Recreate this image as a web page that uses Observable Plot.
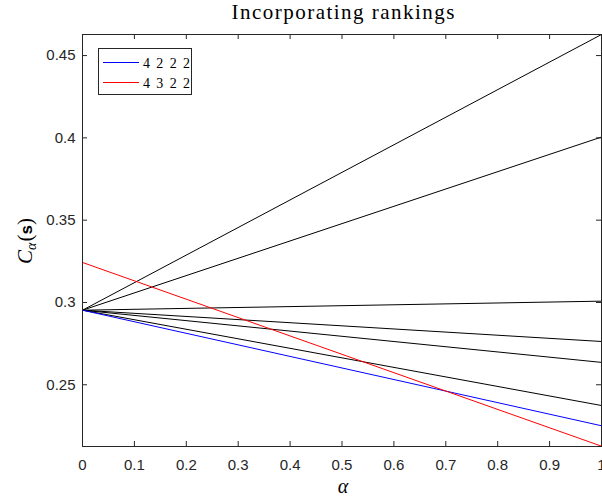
<!DOCTYPE html>
<html><head><meta charset="utf-8">
<script src="https://cdn.jsdelivr.net/npm/d3@7"></script>
<script src="https://cdn.jsdelivr.net/npm/@observablehq/plot@0.6"></script>
<style>body{margin:0;background:#fff} #chart{width:602px;height:498px}</style>
</head><body><div id="chart"></div>
<script>
// ---- data ----
const alpha = [0, 1];
const blackStart = 0.2953;
const blackEnds = [0.4628, 0.4005, 0.3008, 0.2763, 0.2636, 0.2374];
const blueSeries = [0.2953, 0.2251];   // 4 2 2 2
const redSeries  = [0.3243, 0.2127];   // 4 3 2 2
const xTicks = [0, 0.1, 0.2, 0.3, 0.4, 0.5, 0.6, 0.7, 0.8, 0.9, 1];
const yTicks = [0.25, 0.3, 0.35, 0.4, 0.45];
const legendLabels = ["4 2 2 2", "4 3 2 2"];
const legendColors = ["#0000ff", "#ff0000"];
const titleText = "Incorporating rankings";

// ---- build rows ----
const blackRows = [];
blackEnds.forEach((e, i) => {
  blackRows.push({a: alpha[0], v: blackStart, id: i});
  blackRows.push({a: alpha[1], v: e, id: i});
});
const blueRows = alpha.map((a, i) => ({a, v: blueSeries[i]}));
const redRows = alpha.map((a, i) => ({a, v: redSeries[i]}));

const W = 602, H = 498, mL = 82, mR = 1, mT = 34, mB = 52;
const iw = W - mL - mR, ih = H - mT - mB;
const axisColor = "#262626";
const fmt = d => String(d);

const svg = Plot.plot({
  width: W, height: H,
  marginLeft: mL, marginRight: mR, marginTop: mT, marginBottom: mB,
  style: {fontFamily: "'Liberation Sans', Arial, sans-serif", fontSize: "15px", color: axisColor, background: "white"},
  x: {domain: [0, 1]},
  y: {domain: [0.2125, 0.4628]},
  marks: [
    Plot.line(blackRows, {x: "a", y: "v", z: "id", stroke: "#000", strokeWidth: 1, clip: true}),
    Plot.line(blueRows, {x: "a", y: "v", stroke: legendColors[0], strokeWidth: 1, clip: true}),
    Plot.line(redRows, {x: "a", y: "v", stroke: legendColors[1], strokeWidth: 1, clip: true}),
    Plot.frame({stroke: axisColor, strokeWidth: 1}),
    Plot.tickX(xTicks, {x: d => d, stroke: axisColor, insetTop: ih - 5}),
    Plot.tickX(xTicks, {x: d => d, stroke: axisColor, insetBottom: ih - 5}),
    Plot.tickY(yTicks, {y: d => d, stroke: axisColor, insetRight: iw - 5}),
    Plot.tickY(yTicks, {y: d => d, stroke: axisColor, insetLeft: iw - 5}),
    Plot.axisX(xTicks, {tickSize: 0, tickPadding: 13, tickFormat: fmt, fill: axisColor, label: null}),
    Plot.axisY(yTicks, {tickSize: 0, tickPadding: 7, tickFormat: fmt, fill: axisColor, label: null})
  ]
});

const s = d3.select(svg);
const serif = "'Liberation Serif', 'Times New Roman', serif";
// title
s.append("text").attr("x", 343).attr("y", 19).attr("text-anchor", "middle")
  .attr("font-family", serif).attr("font-size", 21).attr("fill", "#000")
  .attr("textLength", 223).attr("lengthAdjust", "spacing").text(titleText);
// x label
s.append("text").attr("x", 343).attr("y", 493).attr("text-anchor", "middle")
  .attr("font-family", serif).attr("font-size", 20).attr("font-style", "italic").attr("fill", "#000")
  .text("α");
// y label
const yl = s.append("text").attr("transform", "translate(32,241) rotate(-90)")
  .attr("text-anchor", "middle").attr("font-family", serif).attr("font-size", 21).attr("fill", "#000");
yl.append("tspan").attr("font-style", "italic").text("C");
yl.append("tspan").attr("font-style", "italic").attr("font-size", 14).attr("dy", 4).text("α");
yl.append("tspan").attr("dy", -4).attr("dx", 1).text("(");
yl.append("tspan").attr("font-family", "'Liberation Sans', Arial, sans-serif").attr("font-weight", "bold").attr("font-size", 17).text("s");
yl.append("tspan").text(")");
// legend
const lg = s.append("g");
lg.append("rect").attr("x", 98.5).attr("y", 48.5).attr("width", 93).attr("height", 46)
  .attr("fill", "white").attr("stroke", axisColor).attr("stroke-width", 1);
legendLabels.forEach((lab, i) => {
  const y = 62.5 + i * 20;
  lg.append("line").attr("x1", 103).attr("x2", 139).attr("y1", y).attr("y2", y)
    .attr("stroke", legendColors[i]).attr("stroke-width", 1);
  lg.append("text").attr("x", 143).attr("y", y + 5).attr("text-anchor", "start")
    .attr("font-family", serif).attr("font-size", 14)
    .attr("fill", "#000").attr("textLength", 47).attr("lengthAdjust", "spacing").text(lab);
});

document.getElementById("chart").appendChild(svg);
</script>
</body></html>
